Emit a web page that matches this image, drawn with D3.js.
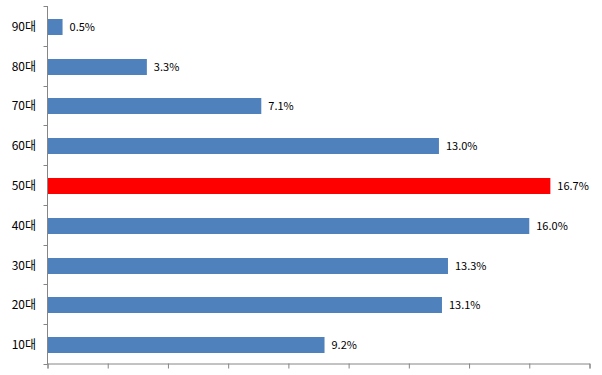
<!DOCTYPE html>
<html><head><meta charset="utf-8">
<script src="https://cdn.jsdelivr.net/npm/d3@7"></script>
<style>body{margin:0;background:#fff}svg{display:block}</style>
</head><body>
<svg id="c" width="602" height="375"></svg>
<script>
const categories = ["90대","80대","70대","60대","50대","40대","30대","20대","10대"];
const values = [0.5, 3.3, 7.1, 13.0, 16.7, 16.0, 13.3, 13.1, 9.2];
const highlight = ["50대"];
const xTicks = [0,2,4,6,8,10,12,14,16,18];

const svg = d3.select("#c");
const plotLeft = 47.5, plotTop = 6.5, plotBottom = 364.5;
const x = d3.scaleLinear().domain([0,18]).range([plotLeft, 589.5]);
const y = d3.scaleBand().domain(categories).range([plotTop, plotBottom]).paddingInner(0.6).paddingOuter(0.3);
const by = d => Math.round(y(d) + 0.5);

const axisColor = "#868686";
// bars
svg.selectAll("rect.bar").data(categories).join("rect")
  .attr("x", 48)
  .attr("y", d => by(d))
  .attr("width", (d,i) => x(values[i]) - 48)
  .attr("height", 16)
  .attr("fill", d => highlight.includes(d) ? "#FF0000" : "#4F81BD");

// value labels
svg.selectAll("text.val").data(categories).join("text")
  .attr("x", (d,i) => x(values[i]) + 7)
  .attr("y", d => by(d) + 8)
  .attr("dy", "0.35em")
  .attr("font-family", "'Noto Sans CJK KR', 'DejaVu Sans', sans-serif")
  .attr("font-size", 11)
  .attr("fill", "#000")
  .text((d,i) => values[i].toFixed(1) + "%");

// y axis line and ticks at category boundaries
svg.append("line").attr("x1", plotLeft).attr("x2", plotLeft).attr("y1", plotTop - 0.5).attr("y2", plotBottom)
  .attr("stroke", axisColor);
const bounds = d3.range(categories.length + 1).map(i => plotTop + (plotBottom - plotTop) * i / categories.length);
svg.selectAll("line.yt").data(bounds).join("line")
  .attr("x1", plotLeft - 4).attr("x2", plotLeft).attr("y1", d => Math.round(d - 0.5) + 0.5).attr("y2", d => Math.round(d - 0.5) + 0.5)
  .attr("stroke", axisColor);

// category labels
svg.selectAll("text.cat").data(categories).join("text")
  .attr("x", 36)
  .attr("y", d => by(d) + 8)
  .attr("dy", "0.35em")
  .attr("text-anchor", "end")
  .attr("font-family", "'Noto Sans CJK KR', sans-serif")
  .attr("font-size", 12)
  .attr("fill", "#000")
  .text(d => d);

// x axis
const xa = svg.append("g").attr("transform", `translate(0,${plotBottom - 1})`)
  .call(d3.axisBottom(x).tickValues(xTicks).tickSize(5).tickFormat(""));
xa.select(".domain").attr("stroke", axisColor);
xa.selectAll(".tick line").attr("stroke", axisColor);
</script>
</body></html>
